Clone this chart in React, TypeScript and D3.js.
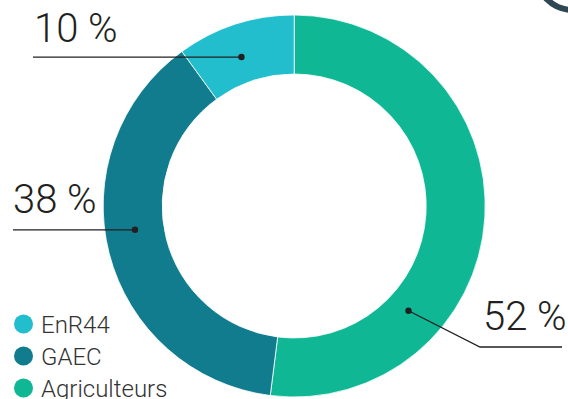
import React from "react";
import * as d3 from "d3";

const categories = ["Agriculteurs", "GAEC", "EnR44"];
const values = [52, 38, 10];
const colors = ["#10B794", "#117C8E", "#22BECE"];
const labelTexts = ["52 %", "38 %", "10 %"];
// angle (degrees, clockwise from top) where each leader line touches the ring
const anchorAngles = [132.5, 261.5, 340.5];
const legendOrder = ["EnR44", "GAEC", "Agriculteurs"];

const W = 568;
const H = 399;
const cx = 294.2;
const cy = 206;
const rOuter = 191;
const rInner = 132;
const rAnchor = 158;

export default function App() {
  const pie = d3.pie<number>().sort(null).value((d) => d);
  const arcs = pie(values);
  const arcGen = d3.arc<d3.PieArcDatum<number>>().innerRadius(rInner).outerRadius(rOuter);
  const colorScale = d3.scaleOrdinal<string, string>().domain(categories).range(colors);
  const rad = (deg: number) => (deg * Math.PI) / 180;
  const pt = (deg: number, r: number) => [cx + r * Math.sin(rad(deg)), cy - r * Math.cos(rad(deg))];

  const a0 = pt(anchorAngles[0], 155);
  const a1 = pt(anchorAngles[1], rAnchor + 3);
  const a2 = pt(anchorAngles[2], rAnchor);

  const font = "Roboto, 'Noto Sans', sans-serif";
  const textColor = "#231f20";

  return (
    <svg width={W} height={H} style={{ position: "absolute", left: 0, top: 0 }} viewBox={`0 0 ${W} ${H}`}>
      <rect width={W} height={H} fill="#ffffff" />
      {/* decorative partial ring top-right */}
      <circle cx={573} cy={-27} r={37} fill="none" stroke="#2E4753" strokeWidth={6} />
      <g transform={`translate(${cx},${cy})`}>
        {arcs.map((a, i) => (
          <path key={i} d={arcGen(a) || ""} fill={colorScale(categories[i])} stroke="#ffffff" strokeWidth={0.8} />
        ))}
      </g>
      {/* Agriculteurs leader */}
      <polyline points={`${a0[0]},${a0[1]} 480,347 562,347`} fill="none" stroke={textColor} strokeWidth={1.3} />
      <circle cx={a0[0]} cy={a0[1]} r={3.2} fill={textColor} />
      <text x={483} y={330} fontFamily={font} fontWeight={300} fontSize={40} fill={textColor}>{labelTexts[0]}</text>
      {/* GAEC leader */}
      <line x1={13} y1={a1[1]} x2={a1[0]} y2={a1[1]} stroke={textColor} strokeWidth={1.3} />
      <circle cx={a1[0]} cy={a1[1]} r={3.2} fill={textColor} />
      <text x={13} y={213} fontFamily={font} fontWeight={300} fontSize={40} fill={textColor}>{labelTexts[1]}</text>
      {/* EnR44 leader */}
      <line x1={33} y1={a2[1]} x2={a2[0]} y2={a2[1]} stroke={textColor} strokeWidth={1.3} />
      <circle cx={a2[0]} cy={a2[1]} r={3.2} fill={textColor} />
      <text x={34} y={42} fontFamily={font} fontWeight={300} fontSize={40} fill={textColor}>{labelTexts[2]}</text>
      {/* legend */}
      {legendOrder.map((name, i) => (
        <g key={name} transform={`translate(0, ${324 + i * 32})`}>
          <circle cx={23.5} cy={0} r={9.5} fill={colorScale(name)} />
          <text x={41} y={9} fontFamily={font} fontWeight={300} fontSize={24} fill="#333333">{name}</text>
        </g>
      ))}
    </svg>
  );
}
